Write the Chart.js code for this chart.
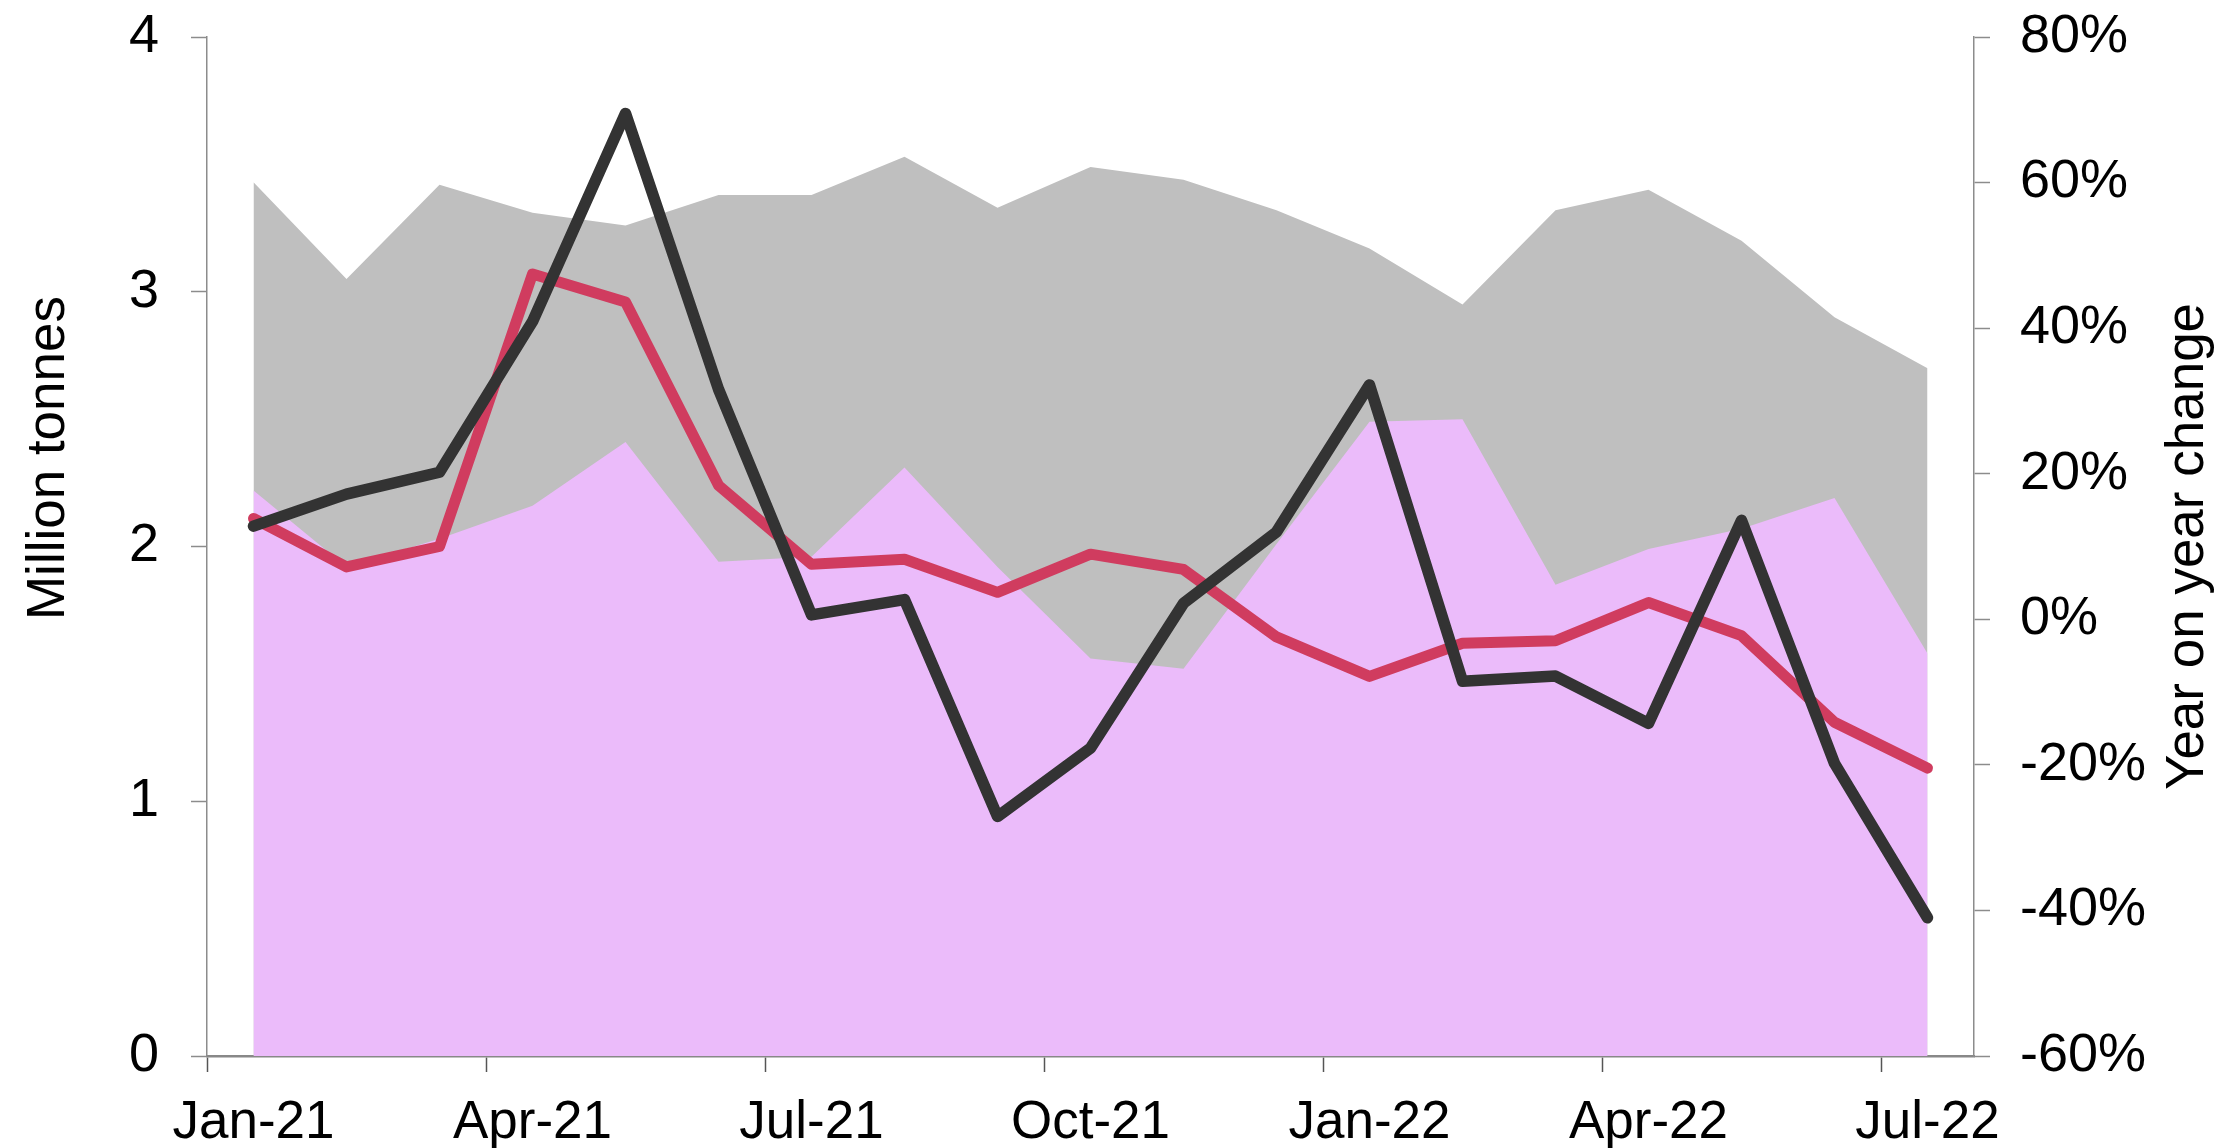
<!DOCTYPE html>
<html>
<head>
<meta charset="utf-8">
<script src="https://cdn.jsdelivr.net/npm/chart.js@4"></script>
<style>
  html, body { margin: 0; padding: 0; background: #fff; }
  #wrap { width: 2220px; height: 1148px; position: relative; }
</style>
</head>
<body>
<div id="wrap"><canvas id="chart"></canvas></div>
<script>
const months = ['Jan-21', 'Feb-21', 'Mar-21', 'Apr-21', 'May-21', 'Jun-21', 'Jul-21', 'Aug-21', 'Sep-21',
    'Oct-21', 'Nov-21', 'Dec-21', 'Jan-22', 'Feb-22', 'Mar-22', 'Apr-22', 'May-22', 'Jun-22', 'Jul-22'];

// million tonnes (left axis)
const greyArea = [3.43, 3.05, 3.42, 3.31, 3.26, 3.38, 3.38, 3.53, 3.33, 3.49, 3.44, 3.32, 3.17, 2.95, 3.32, 3.40, 3.20, 2.90, 2.70];
const pinkArea = [2.22, 1.92, 2.03, 2.16, 2.41, 1.94, 1.96, 2.31, 1.92, 1.56, 1.52, 2.01, 2.49, 2.50, 1.85, 1.99, 2.07, 2.19, 1.58];
const redLine = [2.11, 1.92, 2.00, 3.07, 2.96, 2.24, 1.93, 1.95, 1.82, 1.97, 1.91, 1.645, 1.49, 1.62, 1.63, 1.78, 1.65, 1.31, 1.13];

// year on year change, % (right axis)
const yoyChange = [12.8, 17.2, 20.2, 40.9, 69.5, 31.6, 0.6, 2.7, -27.1, -17.7, 2.2, 12.0, 32.2, -8.5, -7.8, -14.3, 13.6, -19.8, -41.0];

const leftTicks = [0, 1, 2, 3, 4];
const rightTicks = [-60, -40, -20, 0, 20, 40, 60, 80];

const FONT = '"Liberation Sans", Arial, sans-serif';
const axisGrey = '#8c8c8c';

const axisTitles = {
    id: 'axisTitles',
    afterDraw(chart) {
        const c = chart.ctx;
        const a = chart.chartArea;
        c.save();
        c.fillStyle = '#000';
        c.font = '53px ' + FONT;
        c.textAlign = 'center';
        c.textBaseline = 'alphabetic';
        c.translate(64, a.top + 421);
        c.rotate(-Math.PI / 2);
        c.fillText('Million tonnes', 0, 0);
        c.restore();
        c.save();
        c.fillStyle = '#000';
        c.font = '53px ' + FONT;
        c.textAlign = 'center';
        c.textBaseline = 'alphabetic';
        c.translate(2203, (a.top + a.bottom) / 2);
        c.rotate(-Math.PI / 2);
        c.fillText('Year on year change', 0, 0);
        c.restore();
    }
};

function fixVertical(width) {
    return (scale) => {
        scale.width = width;
        scale.paddingTop = 0;
        scale.paddingBottom = 0;
    };
}

const ctx = document.getElementById('chart').getContext('2d');
const myChart = new Chart(ctx, {
    type: 'line',
    data: {
        labels: months,
        datasets: [{
            label: 'Year on year change',
            data: yoyChange,
            yAxisID: 'y1',
            borderColor: '#333333',
            borderWidth: 11.5,
            borderCapStyle: 'round',
            borderJoinStyle: 'round',
            pointRadius: 0,
            fill: false,
            order: 0
        }, {
            label: 'Line',
            data: redLine,
            yAxisID: 'y',
            borderColor: '#d03c5f',
            borderWidth: 11,
            borderCapStyle: 'round',
            borderJoinStyle: 'round',
            pointRadius: 0,
            fill: false,
            order: 1
        }, {
            label: 'Pink',
            data: pinkArea,
            yAxisID: 'y',
            borderWidth: 0,
            borderColor: 'rgba(0,0,0,0)',
            backgroundColor: '#ebbbfa',
            pointRadius: 0,
            fill: 'origin',
            order: 2
        }, {
            label: 'Grey',
            data: greyArea,
            yAxisID: 'y',
            borderWidth: 0,
            borderColor: 'rgba(0,0,0,0)',
            backgroundColor: '#bfbfbf',
            pointRadius: 0,
            fill: 'origin',
            order: 3
        }]
    },
    options: {
        responsive: true,
        maintainAspectRatio: false,
        animation: false,
        layout: { padding: { top: 37, left: 0, right: 0, bottom: 0 } },
        plugins: {
            legend: { display: false },
            tooltip: { enabled: false }
        },
        scales: {
            x: {
                offset: true,
                afterFit: (scale) => { scale.height = 92; },
                grid: {
                    offset: true,
                    drawOnChartArea: false,
                    drawTicks: true,
                    tickLength: 16,
                    tickWidth: 1.5,
                    tickColor: (c) => (c.index % 3 === 0 ? '#555555' : 'rgba(0,0,0,0)')
                },
                border: { display: true, color: '#888888', width: 2.5 },
                ticks: {
                    autoSkip: false,
                    maxRotation: 0,
                    padding: 20,
                    color: '#000',
                    font: { family: FONT, size: 53 },
                    callback: function (v, i) { return i % 3 === 0 ? months[i] : ''; }
                }
            },
            y: {
                position: 'left',
                min: leftTicks[0],
                max: leftTicks[leftTicks.length - 1],
                afterFit: fixVertical(207),
                afterBuildTicks: (scale) => { scale.ticks = leftTicks.map(v => ({ value: v })); },
                grid: {
                    drawOnChartArea: false,
                    tickLength: 16,
                    tickWidth: 1.5,
                    tickColor: axisGrey
                },
                border: { display: true, color: axisGrey, width: 1.5 },
                ticks: {
                    padding: 32,
                    color: '#000',
                    font: { family: FONT, size: 54 }
                }
            },
            y1: {
                position: 'right',
                min: rightTicks[0],
                max: rightTicks[rightTicks.length - 1],
                afterFit: fixVertical(246),
                afterBuildTicks: (scale) => { scale.ticks = rightTicks.map(v => ({ value: v })); },
                grid: {
                    drawOnChartArea: false,
                    tickLength: 16,
                    tickWidth: 1.5,
                    tickColor: axisGrey
                },
                border: { display: true, color: axisGrey, width: 1.5 },
                ticks: {
                    padding: 30,
                    color: '#000',
                    font: { family: FONT, size: 54 },
                    callback: (v) => v + '%'
                }
            }
        }
    },
    plugins: [axisTitles]
});
</script>
</body>
</html>
